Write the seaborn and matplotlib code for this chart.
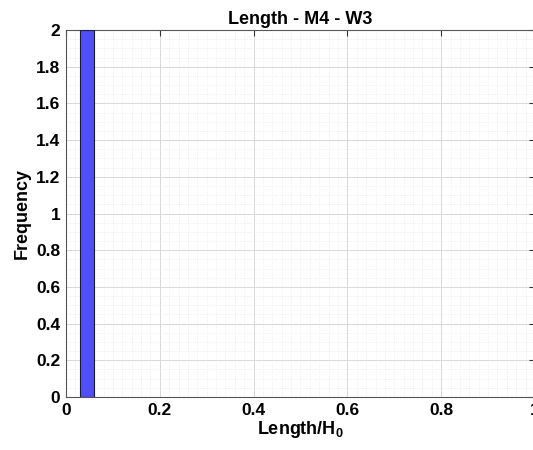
import numpy as np
import pandas as pd
import matplotlib
matplotlib.use("Agg")
import matplotlib.pyplot as plt
import seaborn as sns
from matplotlib.ticker import MultipleLocator

# Data: two length samples falling in the same bin
lengths = [0.04, 0.05]
bin_edges = [0.03, 0.06]
title = "Length - M4 - W3"
xlabel_txt = "Length/H$_0$"
ylabel_txt = "Frequency"
xticks = [0, 0.2, 0.4, 0.6, 0.8, 1.0]
xtick_labels = ["0", "0.2", "0.4", "0.6", "0.8", "1"]
yticks = [0, 0.2, 0.4, 0.6, 0.8, 1, 1.2, 1.4, 1.6, 1.8, 2]
ytick_labels = ["0", "0.2", "0.4", "0.6", "0.8", "1", "1.2", "1.4", "1.6", "1.8", "2"]

sns.set_style("white")
plt.rcParams['font.family'] = ['Liberation Sans', 'DejaVu Sans']
plt.rcParams['text.color'] = 'black'
plt.rcParams['axes.labelcolor'] = 'black'
plt.rcParams['xtick.color'] = 'black'
plt.rcParams['ytick.color'] = 'black'
plt.rcParams['mathtext.fontset'] = 'custom'
plt.rcParams['mathtext.rm'] = 'Liberation Sans:bold'
plt.rcParams['mathtext.it'] = 'Liberation Sans:bold'
plt.rcParams['mathtext.bf'] = 'Liberation Sans:bold'

W, H = 533, 450
fig = plt.figure(figsize=(W / 100, H / 100), dpi=100)
ax = fig.add_axes([66 / W, (H - 397) / H, 469 / W, 367 / H])

df = pd.DataFrame({"length": lengths})
sns.histplot(data=df, x="length", bins=bin_edges, ax=ax,
             color="#4f4ff5", edgecolor="#1a1a3a", linewidth=0.8, alpha=1.0, zorder=3)

ax.set_xlim(0, 1)
ax.set_ylim(0, 2)
ax.set_xticks(xticks)
ax.set_xticklabels(xtick_labels)
ax.set_yticks(yticks)
ax.set_yticklabels(ytick_labels)
ax.xaxis.set_minor_locator(MultipleLocator(0.02))
ax.yaxis.set_minor_locator(MultipleLocator(0.05))
ax.set_axisbelow(True)
ax.grid(which="major", color="#d8d8d8", linewidth=0.7)
ax.grid(which="minor", color="#e6e6e6", linewidth=0.5, linestyle=(0, (1, 1.5)))
ax.tick_params(which="major", direction="in", length=4, color="#333333",
               labelsize=12.5, top=True, right=True, pad=4)
ax.tick_params(which="minor", length=0)
for lbl in ax.get_xticklabels() + ax.get_yticklabels():
    lbl.set_fontweight("bold")
for s in ax.spines.values():
    s.set_color("#555555")
    s.set_linewidth(0.8)

ax.set_title(title, fontsize=13, fontweight="bold", pad=4)
ax.set_xlabel(xlabel_txt, fontsize=13, fontweight="bold", labelpad=1)
ax.set_ylabel(ylabel_txt, fontsize=13, fontweight="bold", labelpad=4)

fig.savefig("out.png", dpi=100)
